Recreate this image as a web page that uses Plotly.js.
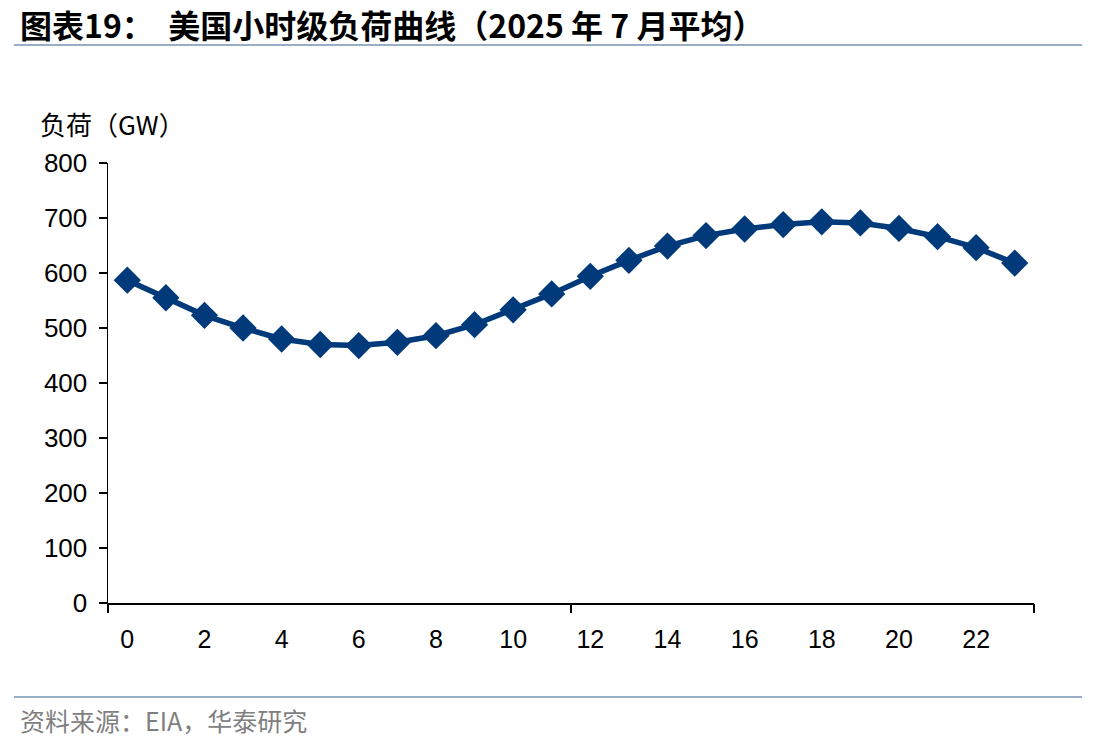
<!DOCTYPE html>
<html>
<head>
<meta charset="utf-8">
<script src="https://cdn.plot.ly/plotly-3.0.1.min.js"></script>
<style>
html,body{margin:0;padding:0;background:#fff;}
#chart{width:1112px;height:751px;}
</style>
</head>
<body>
<div id="chart"></div>
<script>
const hours = [0,1,2,3,4,5,6,7,8,9,10,11,12,13,14,15,16,17,18,19,20,21,22,23];
const loadGW = [587,555,523,500,480,470,468,474,486,506,533,562,594,623,649,668,680,688,693,691,681,666,646,618];
const xTickVals = [0,2,4,6,8,10,12,14,16,18,20,22];
const yTickVals = [0,100,200,300,400,500,600,700,800];
const titleText = "图表19：  美国小时级负荷曲线（2025 年 7 月平均）";
const yTitleText = "负荷（GW）";
const sourceText = "资料来源：EIA，华泰研究";

const navy = "#003A7A";
const trace = {
  x: hours, y: loadGW, type: "scatter", mode: "lines+markers",
  line: {color: navy, width: 5.5},
  marker: {symbol: "diamond", size: 21, color: navy},
  hoverinfo: "x+y", showlegend: false
};
// invisible helper trace to activate the second x axis (boundary ticks)
const helper = {x: [hours[0]], y: [loadGW[0]], xaxis: "x2", type: "scatter", mode: "markers",
  marker: {opacity: 0}, showlegend: false, hoverinfo: "skip"};

const plotH = 751 - 163 - 148, plotW = 1112 - 108 - 78;
function py(pix){ return (751 - 148 - pix) / plotH; }
function px(pix){ return (pix - 108) / plotW; }

const layout = {
  width: 1112, height: 751,
  margin: {l: 108, r: 78, t: 163, b: 148},
  paper_bgcolor: "#fff", plot_bgcolor: "#fff",
  font: {family: "Liberation Sans, Arial, sans-serif", color: "#000"},
  xaxis: {
    range: [-0.5, 23.5], tickvals: xTickVals, ticktext: xTickVals.map(String),
    ticks: "", showgrid: false, zeroline: false,
    showline: true, linecolor: "#000", linewidth: 1.5,
    tickfont: {size: 25, family: "Liberation Sans Narrow, Liberation Sans, Arial", color: "#000"},
    ticklabelstandoff: 13
  },
  xaxis2: {
    overlaying: "x", side: "bottom", anchor: "y", range: [-0.5, 23.5],
    tickvals: [-0.5, 11.5, 23.5], ticktext: ["", "", ""],
    ticks: "outside", ticklen: 9, tickwidth: 1.5, tickcolor: "#000",
    showgrid: false, zeroline: false, showline: false
  },
  yaxis: {
    range: [0, 800], tickvals: yTickVals, ticks: "outside", ticklen: 8, tickwidth: 1.5,
    tickcolor: "#000", showgrid: false, zeroline: false,
    showline: true, linecolor: "#000", linewidth: 1.5,
    tickfont: {size: 26, color: "#000"}, ticklabelstandoff: 6
  },
  annotations: [
    {text: "<b>" + titleText + "</b>", xref: "paper", yref: "paper",
     x: px(18), y: py(24), xanchor: "left", yanchor: "middle", showarrow: false,
     font: {family: "Noto Sans CJK SC", size: 32, color: "#000"}},
    {text: yTitleText, xref: "paper", yref: "paper", x: px(38), y: py(123),
     xanchor: "left", yanchor: "middle", showarrow: false,
     font: {family: "Noto Sans CJK SC", size: 26, color: "#000"}},
    {text: sourceText, xref: "paper", yref: "paper", x: px(18), y: py(720),
     xanchor: "left", yanchor: "middle", showarrow: false,
     font: {family: "Noto Sans CJK SC", size: 25, color: "#7f7f7f"}}
  ],
  shapes: [
    {type: "line", xref: "paper", yref: "paper", x0: px(14), x1: px(1082), y0: py(45), y1: py(45),
     line: {color: "#98aec6", width: 2}},
    {type: "line", xref: "paper", yref: "paper", x0: px(14), x1: px(1082), y0: py(697), y1: py(697),
     line: {color: "#98aec6", width: 2}}
  ]
};

Plotly.newPlot("chart", [trace, helper], layout, {displayModeBar: false, staticPlot: true});
</script>
</body>
</html>
